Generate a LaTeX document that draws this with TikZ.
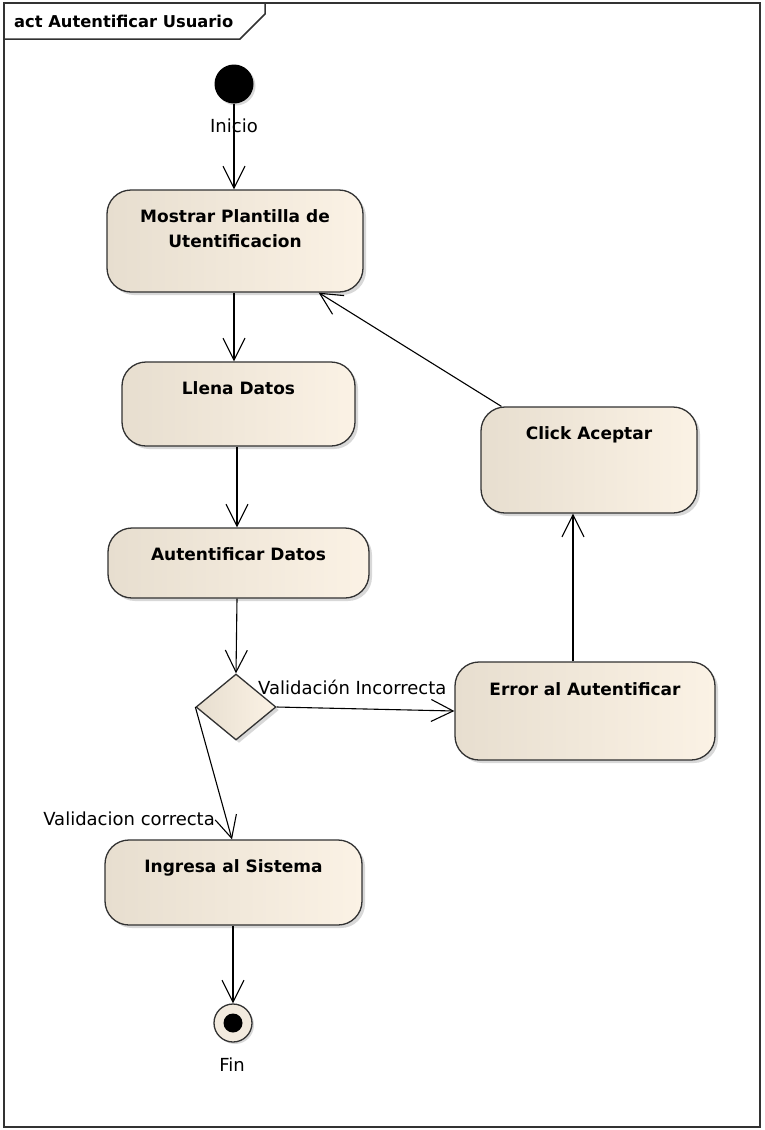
\documentclass[tikz,border=0pt]{standalone}
\usepackage{fontspec}
\setmainfont{DejaVu Sans}
\usetikzlibrary{arrows.meta,shapes.geometric,shadows,calc}
\definecolor{actleft}{RGB}{231,222,207}
\definecolor{actright}{RGB}{251,242,229}
\definecolor{actline}{RGB}{50,50,50}
\definecolor{finfill}{RGB}{242,234,222}
\tikzset{
  actbox/.style={draw=actline, line width=1.3pt, rounded corners=24pt,
    left color=actleft, right color=actright, inner sep=0pt,
    drop shadow={shadow xshift=3pt, shadow yshift=-3pt, opacity=0.3}},
  acttext/.style={font=\fontsize{17}{25}\selectfont\bfseries, anchor=base,
    align=center, inner sep=0pt},
  lbl/.style={font=\fontsize{18}{22}\selectfont, inner sep=0pt},
  flow/.style={draw=black, line width=1.1pt,
    -{Straight Barb[length=22pt,width=22pt,line width=1.1pt]}},
}
\begin{document}
\begin{tikzpicture}[x=1pt,y=-1pt]
\useasboundingbox (0,0) rectangle (764,1130);
% frame with name tab
\draw[actline, line width=1.5pt, fill=white] (4,3) rectangle (760,1127);
\draw[actline, line width=1.5pt] (4,39) -- (240,39) -- (265,14) -- (265,3);
\node[font=\fontsize{16.3}{20}\selectfont\bfseries, anchor=base west, inner sep=0pt]
  (title) at (14,27) {act Autentificar Usuario};

% initial and final nodes
\node[circle, fill=black, minimum size=39pt, inner sep=0pt,
  drop shadow={shadow xshift=2pt, shadow yshift=-2pt, opacity=0.3}] (start) at (234,84) {};
\node[lbl] (inicio) at (234,126) {Inicio};
\node[circle, draw=actline, line width=1.3pt, fill=finfill, minimum size=38pt, inner sep=0pt,
  drop shadow={shadow xshift=2pt, shadow yshift=-2pt, opacity=0.3}] (fin) at (233,1023) {};
\node[circle, fill=black, minimum size=19pt, inner sep=0pt] (finin) at (fin) {};
\node[lbl] (fintxt) at (232,1065) {Fin};

% actions
\node[actbox, minimum width=256pt, minimum height=102pt] (mostrar) at (235,241) {};
\node[acttext] (mostrart) at ([yshift=-58pt]mostrar.north) {Mostrar Plantilla de\\Utentificacion};
\node[actbox, minimum width=233pt, minimum height=84pt] (llena) at (238.5,404) {};
\node[acttext] (llenat) at ([yshift=-33pt]llena.north) {Llena Datos};
\node[actbox, minimum width=261pt, minimum height=70pt] (autent) at (238.5,563) {};
\node[acttext] (autentt) at ([yshift=-33pt]autent.north) {Autentificar Datos};
\node[actbox, minimum width=257pt, minimum height=85pt] (ingresa) at (233.5,882.5) {};
\node[acttext] (ingresat) at ([yshift=-33pt]ingresa.north) {Ingresa al Sistema};
\node[actbox, minimum width=260pt, minimum height=98pt] (error) at (585,711) {};
\node[acttext] (errort) at ([yshift=-34pt]error.north) {Error al Autentificar};
\node[actbox, minimum width=216pt, minimum height=106pt] (click) at (589,460) {};
\node[acttext] (clickt) at ([yshift=-33pt]click.north) {Click Aceptar};

% decision
\node[diamond, draw=actline, line width=1.3pt, left color=actleft, right color=actright,
  minimum width=80pt, minimum height=66pt, inner sep=0pt,
  drop shadow={shadow xshift=3pt, shadow yshift=-3pt, opacity=0.3}] (dec) at (236,707) {};

% control flows
\draw[flow] (start) -- (start |- mostrar.north);
\draw[flow] ([xshift=-1pt]mostrar.south) -- ([xshift=-4.5pt]llena.north);
\draw[flow] ([xshift=-1.5pt]llena.south) -- ([xshift=-1.5pt]autent.north);
\draw[flow] ([xshift=-1.5pt]autent.south) -- (dec.north);
\draw[flow] (dec.east) -- (error.west);
\node[lbl, anchor=base west] (incorrecta) at (258,694) {Validación Incorrecta};
\draw[flow] (dec.west) -- ([xshift=-1.5pt]ingresa.north);
\node[lbl, anchor=base east] (correcta) at (215,825) {Validacion correcta};
\draw[flow] ([xshift=-0.5pt]ingresa.south) -- (fin.north);
\draw[flow] ([xshift=-12pt]error.north) -- ([xshift=-16pt]click.south);
\draw[flow] ($(click.north west)+(21,0)$) -- ($(mostrar.south east)+(-45,0)$);
\end{tikzpicture}
\end{document}
